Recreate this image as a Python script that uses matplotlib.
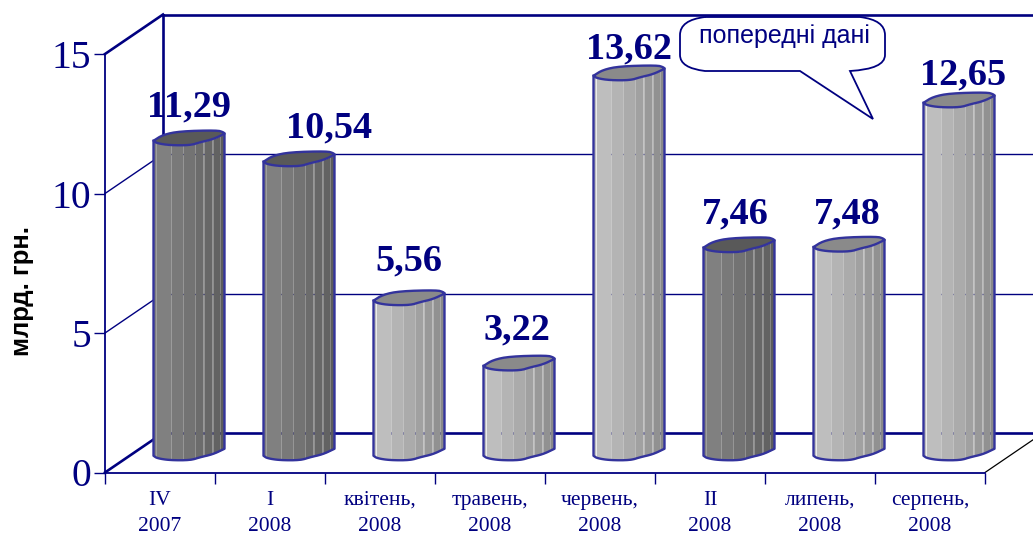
import numpy as np
import matplotlib
matplotlib.use("Agg")
import matplotlib.pyplot as plt
from matplotlib.path import Path
from matplotlib.patches import PathPatch, Polygon

categories = ["IV\n2007", "I\n2008", "квітень,\n2008", "травень,\n2008",
              "червень,\n2008", "II\n2008", "липень,\n2008", "серпень,\n2008"]
values = [11.29, 10.54, 5.56, 3.22, 13.62, 7.46, 7.48, 12.65]
value_labels = ["11,29", "10,54", "5,56", "3,22", "13,62", "7,46", "7,48", "12,65"]
y_ticks = [0, 5, 10, 15]

NAVY = "#000080"
EDGE = "#33339c"
W, H = 1033, 534
LEFT, RIGHT, TOP, BOTTOM = 105, 985, 54, 472.5
DEPTH_X, DEPTH_Y = 58, 39.5

# hand placed data labels, pixel shift from the top of the bar
label_dx = [0, 30, 0, -2, 0, -4, -2, 4]
label_dy = [21, 21, 27, 23, 14, 21, 21, 15]

fig = plt.figure(figsize=(W / 100, H / 100), dpi=100)
ax = fig.add_axes([LEFT / W, 1 - BOTTOM / H, (RIGHT - LEFT) / W, (BOTTOM - TOP) / H])
ax.set_xlim(0, 8)
ax.set_ylim(0, 15)
ax.patch.set_alpha(0)

ux = (RIGHT - LEFT) / 8     # px per category
uy = (BOTTOM - TOP) / 15    # px per unit of value
dx = DEPTH_X / ux
dy = DEPTH_Y / uy


def px(x, y):
    # figure pixels to data coords, only for annotations
    return (x - LEFT) / ux, (BOTTOM - y) / uy


def smooth(points, rounds=2):
    # corner cutting, keeps the end points
    for _ in range(rounds):
        a, b = points[:-1], points[1:]
        mid = np.empty((2 * len(a), 2))
        mid[0::2] = 0.75 * a + 0.25 * b
        mid[1::2] = 0.25 * a + 0.75 * b
        points = np.vstack([points[:1], mid, points[-1:]])
    return points


# walls and floor
for v in y_ticks:
    heavy = v in (0, 15)
    lw = 1.9 if heavy else 1.0
    ax.plot([0, dx], [v, v + dy], color=NAVY, lw=lw, clip_on=False, zorder=1)
    ax.plot([dx, 8 + dx], [v + dy, v + dy], color=NAVY, lw=lw, clip_on=False, zorder=1)
ax.plot([dx, dx], [dy, 15 + dy], color=NAVY, lw=1.9, clip_on=False, zorder=1)
ax.plot([8, 8 + dx], [0, dy], color="black", lw=0.9, clip_on=False, zorder=1)

# outline of the top of a cylinder, px from its centre (x right, y up)
cap_back = smooth(np.array([[-35.5, -3], [-26, 3], [-9, 6.5], [28, 7.5], [34.5, 5.5], [35.5, 4]]))
cap_front = smooth(np.array([[-35.5, -3], [-32, -5.5], [-19, -7.5], [1.5, -7.5], [11, -4.5],
                             [24, -1.5], [35.5, 4]]))
strip_edges = np.array([-35.5, -33.5, -32.5, -18, -6, 6, 14, 15, 23, 24, 31, 35.5])
strip_shade = np.array([0.98, 1.2, 0.97, 0.92, 0.87, 0.82, 0.95, 0.78, 0.9, 0.74, 0.70])


def front_y(u):
    return np.interp(u, cap_front[:, 0], cap_front[:, 1])


for i, (name, val) in enumerate(zip(categories, values)):
    quarter = name.split("\n")[0] in ("IV", "I", "II")
    base = 0x84 if quarter else 0xc4
    cap_col = "#595959" if quarter else "#8a8a8a"
    cx = i + 0.5 + dx / 2
    cy0 = dy / 2

    for j in range(len(strip_shade)):
        u = np.linspace(strip_edges[j], strip_edges[j + 1], 5)
        xs = cx + u / ux
        low = cy0 + front_y(u) / uy
        g = min(base * strip_shade[j] / 255, 1)
        ax.fill_between(xs, low, low + val, color=(g, g, g), lw=0, clip_on=False, zorder=3)

    u = np.linspace(-35.5, 35.5, 60)
    low = cy0 + front_y(u) / uy
    ax.plot(np.r_[cx + u[0] / ux, cx + u / ux, cx + u[-1] / ux],
            np.r_[cy0 + val + front_y(u[0]) / uy, low, cy0 + val + front_y(u[-1]) / uy],
            color=EDGE, lw=1.7, clip_on=False, zorder=4)

    outline = np.vstack([cap_back, cap_front[::-1][1:]])
    ax.add_patch(Polygon(np.c_[cx + outline[:, 0] / ux, cy0 + val + outline[:, 1] / uy],
                         closed=True, fc=cap_col, ec=EDGE, lw=1.7, clip_on=False,
                         joinstyle="round", zorder=5))

    ax.text(cx + label_dx[i] / ux, cy0 + val + label_dy[i] / uy, value_labels[i],
            family="Liberation Serif", weight="bold", fontsize=27.5, color=NAVY,
            ha="center", va="baseline", clip_on=False, zorder=6)

# axes
for s in ("top", "right"):
    ax.spines[s].set_visible(False)
for s in ("left", "bottom"):
    ax.spines[s].set_color(NAVY)
    ax.spines[s].set_linewidth(1.3)
ax.set_yticks(y_ticks)
ax.set_yticklabels([str(v) for v in y_ticks], family="Liberation Serif", fontsize=28.5, color=NAVY)
ax.tick_params(axis="y", length=8, width=1, color=NAVY, pad=2)
ax.set_xticks(range(9))
ax.set_xticklabels([])
ax.tick_params(axis="x", which="major", length=8, width=1, color=NAVY)
ax.set_xticks(np.arange(8) + 0.5, minor=True)
ax.set_xticklabels(categories, minor=True, family="Liberation Serif", fontsize=15.5,
                   color=NAVY, linespacing=1.5)
ax.tick_params(axis="x", which="minor", length=0, pad=13)

fig.text(22 / W, 1 - 291 / H, "млрд. грн.", rotation=90, family="Liberation Sans",
         weight="bold", fontsize=18.5, color="black", ha="center", va="center")

# speech bubble
verts = [(705, 17), (860, 17), (885, 20), (885, 35), (885, 55), (885, 69), (850, 71),
         (873, 119), (800, 71), (705, 71), (680, 68), (680, 55), (680, 35), (680, 20), (705, 17)]
codes = [Path.MOVETO, Path.LINETO, Path.CURVE3, Path.CURVE3, Path.LINETO, Path.CURVE3,
         Path.CURVE3, Path.LINETO, Path.LINETO, Path.LINETO, Path.CURVE3, Path.CURVE3,
         Path.LINETO, Path.CURVE3, Path.CURVE3]
ax.add_patch(PathPatch(Path([px(*v) for v in verts], codes), fc="white", ec=NAVY, lw=1.3,
                       clip_on=False, zorder=7))
tx, ty = px(784, 36)
ax.text(tx, ty, "попередні дані", family="Liberation Sans", fontsize=18, color=NAVY,
        ha="center", va="center", zorder=8)

fig.savefig("out.png", dpi=100)
plt.close(fig)
